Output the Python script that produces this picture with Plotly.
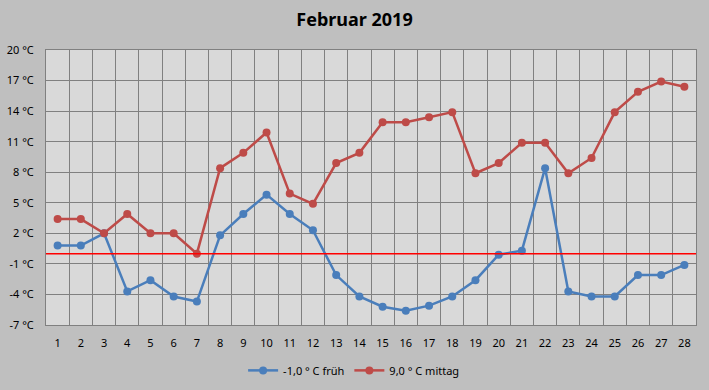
import plotly.graph_objects as go

days = list(range(1, 29))
frueh = [0.8, 0.8, 2.0, -3.7, -2.6, -4.2, -4.7, 1.8, 3.9, 5.8, 3.9, 2.3, -2.1, -4.2,
         -5.2, -5.6, -5.1, -4.2, -2.6, -0.1, 0.3, 8.4, -3.7, -4.2, -4.2, -2.1, -2.1, -1.1]
mittag = [3.4, 3.4, 2.0, 3.9, 2.0, 2.0, 0.0, 8.4, 9.9, 11.9, 5.9, 4.9, 8.9, 9.9,
          12.9, 12.9, 13.4, 13.9, 7.9, 8.9, 10.9, 10.9, 7.9, 9.4, 13.9, 15.9, 16.9, 16.4]
ytick_vals = [-7, -4, -1, 2, 5, 8, 11, 14, 17, 20]
ytick_text = [f"{v} °C" for v in ytick_vals]
name_frueh = "-1,0 ° C früh"
name_mittag = "9,0 ° C mittag"
title = "Februar 2019"

blue = "#4a7ebb"
red = "#be4b48"
font = "Noto Sans"

fig = go.Figure()
fig.add_trace(go.Scatter(x=days, y=frueh, name=name_frueh, mode="lines+markers",
                         line=dict(color=blue, width=2.5), marker=dict(color=blue, size=8)))
fig.add_trace(go.Scatter(x=days, y=mittag, name=name_mittag, mode="lines+markers",
                         line=dict(color=red, width=2.5), marker=dict(color=red, size=8)))

fig.add_shape(type="line", xref="paper", yref="y", x0=0, x1=1, y0=0, y1=0,
              line=dict(color="#ff0000", width=1.5))

fig.update_layout(
    width=709, height=390,
    margin=dict(l=46, r=13, t=50, b=65, autoexpand=False),
    paper_bgcolor="#bfbfbf",
    plot_bgcolor="#d9d9d9",
    font=dict(family=font, size=11, color="#000000"),
    title=dict(text="<b>" + title + "</b>", x=0.5, xanchor="center",
               y=1 - 20 / 390, yanchor="middle", yref="container",
               font=dict(family=font, size=18, color="#000000")),
    showlegend=True,
    legend=dict(orientation="h", x=0.474, xanchor="center", y=-0.165, yanchor="middle",
                itemwidth=30, tracegroupgap=0,
                bgcolor="rgba(0,0,0,0)", font=dict(family=font, size=11)),
    xaxis=dict(range=[0.5, 28.5], tickvals=days, ticktext=[str(d) for d in days],
               showgrid=False, zeroline=False, ticks="", showline=True, linecolor="#808080",
               mirror=True, linewidth=1, automargin=False, ticklabelstandoff=8,
               minor=dict(tick0=0.5, dtick=1, showgrid=True, gridcolor="#808080", gridwidth=1)),
    yaxis=dict(range=[-7, 20], tickvals=ytick_vals, ticktext=ytick_text, automargin=False,
               showgrid=True, gridcolor="#808080", gridwidth=1, zeroline=False, ticks="",
               ticklabelstandoff=9,
               showline=True, linecolor="#808080", mirror=True, linewidth=1),
)

fig.write_html("out.html", config={"displayModeBar": False},
               post_script="document.body.style.margin='0';document.body.style.background='#bfbfbf';")
